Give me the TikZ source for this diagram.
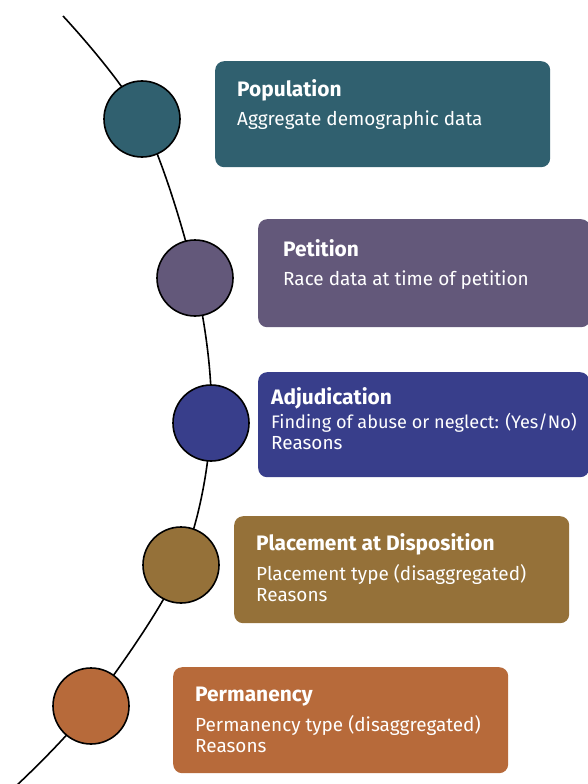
\documentclass[tikz,border=0pt]{standalone}
\usepackage{fontspec}
\setmainfont{Fira Sans}
\usetikzlibrary{positioning}

\definecolor{popcol}{HTML}{30606F}
\definecolor{petcol}{HTML}{63587A}
\definecolor{adjcol}{HTML}{383E8B}
\definecolor{placol}{HTML}{957139}
\definecolor{percol}{HTML}{B76A3A}

\tikzset{
  dot/.style={circle, draw=black, line width=1.6bp, minimum size=76bp, inner sep=0pt},
  card/.style={rounded corners=9bp, inner sep=0pt, anchor=north west},
  ttl/.style={anchor=base west, inner sep=0pt, text=white, font=\fontsize{21}{24}\selectfont\bfseries},
  txt/.style={anchor=base west, inner sep=0pt, text=white, font=\fontsize{19}{22}\selectfont}
}

\begin{document}
\begin{tikzpicture}[x=1bp,y=1bp]
\useasboundingbox (0,0) rectangle (588,-784);
\clip (0,0) rectangle (588,-784);
% points along the timeline
\coordinate (top) at (63,-16);
\coordinate (p1) at (142,-119);
\coordinate (p2) at (195,-278);
\coordinate (p3) at (211,-423);
\coordinate (p4) at (181,-565);
\coordinate (p5) at (91,-706);
\coordinate (bot) at (16,-786);
\draw [black, line width=1.6bp] plot [smooth, tension=0.55] coordinates {(top) (p1) (p2) (p3) (p4) (p5) (bot)};
\node [dot, fill=popcol] (pop) at (p1) {};
\node [dot, fill=petcol] (pet) at (p2) {};
\node [dot, fill=adjcol] (adj) at (p3) {};
\node [dot, fill=placol] (pla) at (p4) {};
\node [dot, fill=percol] (per) at (p5) {};
% cards
\node [card, fill=popcol, minimum width=335bp, minimum height=106bp] (popbox) at (215,-61) {};
\node [ttl] (popT) at (237,-96) {Population};
\node [txt] (popD) at (237,-125) {Aggregate demographic data};
\node [card, fill=petcol, minimum width=332bp, minimum height=108bp] (petbox) at (258,-219) {};
\node [ttl] (petT) at (283,-256) {Petition};
\node [txt] (petD) at (283,-285) {Race data at time of petition};
\node [card, fill=adjcol, minimum width=331bp, minimum height=105bp] (adjbox) at (258,-372) {};
\node [ttl] (adjT) at (271,-404) {Adjudication};
\node [txt, font=\fontsize{18.2}{22}\selectfont] (adjD) at (271,-428) {Finding of abuse or neglect: (Yes/No)};
\node [txt] (adjR) at (271,-449) {Reasons};
\node [card, fill=placol, minimum width=335bp, minimum height=107bp] (plabox) at (234,-516) {};
\node [ttl] (plaT) at (256,-550) {Placement at Disposition};
\node [txt] (plaD) at (256,-580) {Placement type (disaggregated)};
\node [txt] (plaR) at (256,-601) {Reasons};
\node [card, fill=percol, minimum width=335bp, minimum height=106bp] (perbox) at (173,-667) {};
\node [ttl] (perT) at (195,-701) {Permanency};
\node [txt] (perD) at (195,-731) {Permanency type (disaggregated)};
\node [txt] (perR) at (195,-752) {Reasons};
\end{tikzpicture}
\end{document}
